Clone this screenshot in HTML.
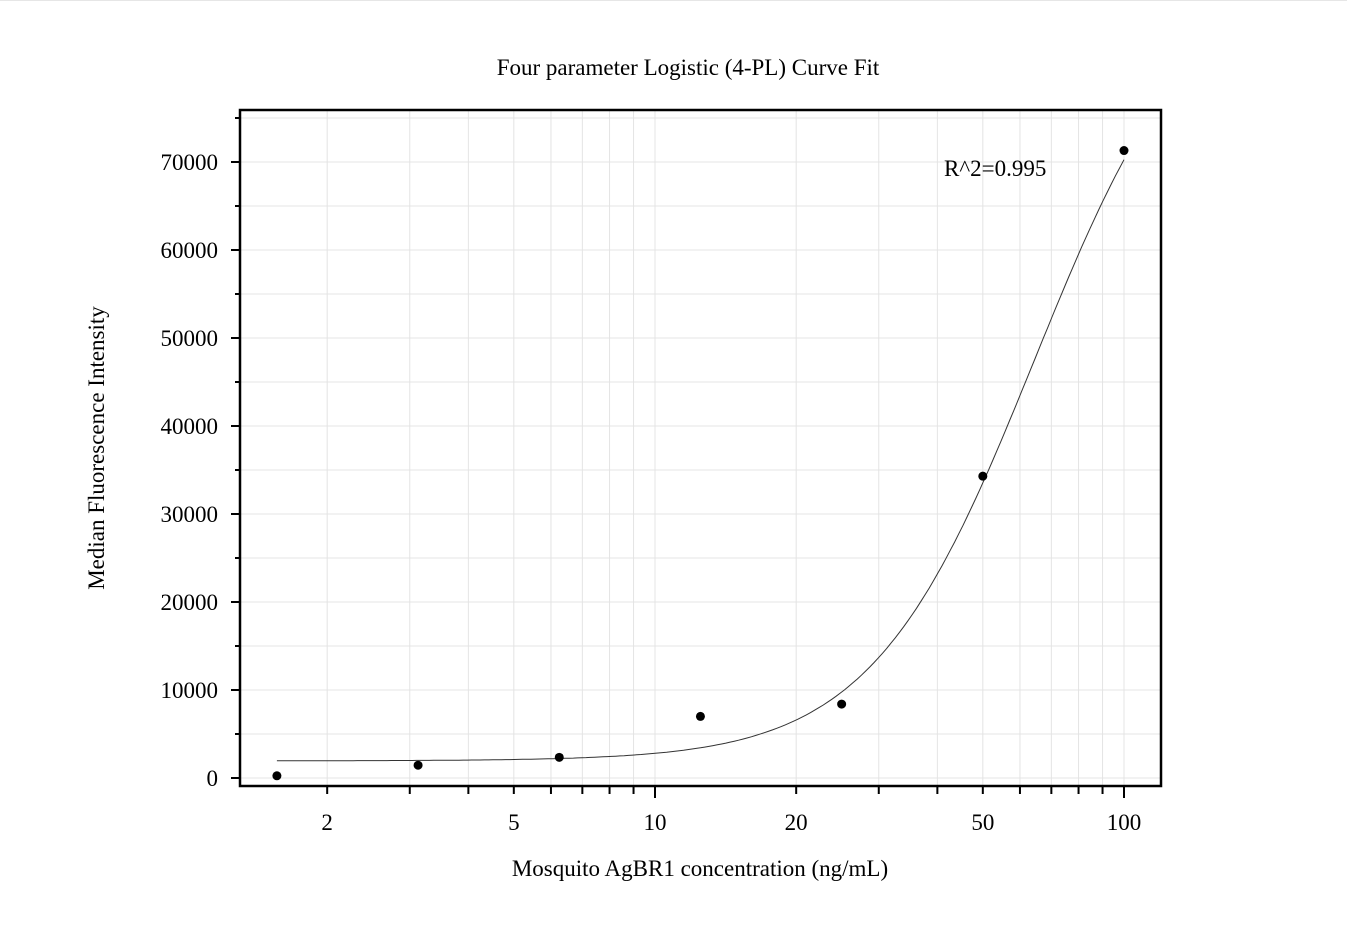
<!DOCTYPE html>
<html><head><meta charset="utf-8"><style>
body{margin:0;background:#fff}
svg{display:block;font-family:"Liberation Serif",serif}
</style></head><body>
<svg width="1347" height="941">
<rect width="1347" height="941" fill="#fff"/>
<line x1="0" y1="0.5" x2="1347" y2="0.5" stroke="#e6e6e6"/>
<g id="grid"></g>
<g id="ticks"></g>
<path id="curve" fill="none" stroke="#333" stroke-width="1"/>
<g id="pts"></g>
<rect x="240" y="110" width="921" height="676" fill="none" stroke="#000" stroke-width="2.5"/>
<text x="688" y="75" text-anchor="middle" font-size="23">Four parameter Logistic (4-PL) Curve Fit</text>
<text x="700" y="876" text-anchor="middle" font-size="23">Mosquito AgBR1 concentration (ng/mL)</text>
<text transform="translate(104,448) rotate(-90)" text-anchor="middle" font-size="23">Median Fluorescence Intensity</text>
<text x="944" y="176" font-size="23">R^2=0.995</text>
</svg>
<script>
const concentrations=[1.5625,3.125,6.25,12.5,25,50,100];
const mfiValues=[250,1450,2350,7000,8400,34300,71300];
const fitParams=[1950,2.5,64.4,93000]; // A,B,C,D
const yTicks=[0,10000,20000,30000,40000,50000,60000,70000];
const xTickLabels=[2,5,10,20,50,100];
const NS="http://www.w3.org/2000/svg";
const X0=655,DEC=469,Y0=778,PY=88/10000;
const sx=v=>X0+Math.log10(v/10)*DEC;
const sy=v=>Y0-v*PY;
function mk(t,a,p){const e=document.createElementNS(NS,t);for(const k in a)e.setAttribute(k,a[k]);p.appendChild(e);return e;}
const grid=document.getElementById('grid'),ticks=document.getElementById('ticks'),pts=document.getElementById('pts');
for(let v=0;v<=75000;v+=5000){
 const l=mk('line',{x1:241,x2:1160,y1:sy(v),y2:sy(v),stroke:'#e4e4e4'},grid);
 
 const major=v%10000===0;
 const t=mk('line',{x1:major?231:235,x2:240,y1:sy(v),y2:sy(v),stroke:'#000','stroke-width':2},ticks);
 
}
yTicks.forEach(v=>{const t=mk('text',{x:218,y:sy(v)+8,'text-anchor':'end','font-size':23},ticks);t.textContent=v;
 });
for(let d=1;d<=100;d*=10)for(let m=1;m<10;m++){const v=d*m;if(v<2||v>100)continue;
 const x=sx(v);
 const g=mk('line',{x1:x,x2:x,y1:111,y2:785,stroke:'#e4e4e4'},grid);
 
 const major=(v===10||v===100);
 const t=mk('line',{x1:x,x2:x,y1:786,y2:major?798:794,stroke:'#000','stroke-width':2},ticks);
 }
xTickLabels.forEach(v=>{const t=mk('text',{x:sx(v),y:830,'text-anchor':'middle','font-size':23},ticks);t.textContent=v;
 });
const [A,B,C,D]=fitParams;const f=x=>D+(A-D)/(1+Math.pow(x/C,B));
let d='';const lo=Math.log10(concentrations[0]),hi=Math.log10(concentrations[concentrations.length-1]);
for(let i=0;i<=200;i++){const x=Math.pow(10,lo+(hi-lo)*i/200);d+=(i?'L':'M')+sx(x).toFixed(1)+','+sy(f(x)).toFixed(1);}
document.getElementById('curve').setAttribute('d',d);
concentrations.forEach((c,i)=>{const p=mk('circle',{cx:sx(c),cy:sy(mfiValues[i]),r:4.5,fill:'#000'},pts);
 });
</script>
</body></html>
